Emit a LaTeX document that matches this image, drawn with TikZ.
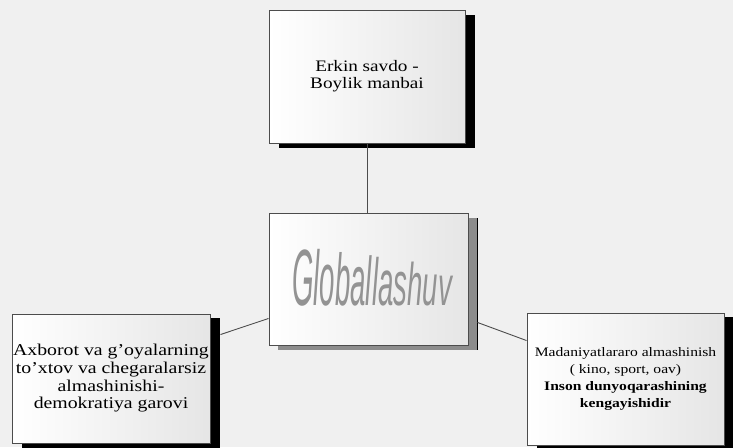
\documentclass[tikz,border=0pt]{standalone}
\usepackage{fontspec}
\usepackage{graphicx}
\setmainfont{Liberation Serif}
\newfontfamily\glfont{Liberation Sans}
\usetikzlibrary{shadows,calc}
\definecolor{gr1}{gray}{.94}
\definecolor{gr2}{gray}{.55}
\definecolor{edge}{gray}{.3}
\newcommand\wideln[1]{\scalebox{1.2}[1]{#1}}
\tikzset{
  box/.style={draw=edge, line width=.9pt, left color=white, right color=gray!20,
    inner sep=1pt, align=center, minimum width=197pt, minimum height=132pt,
    drop shadow={shadow xshift=10pt, shadow yshift=-5pt, fill=black, opacity=1}},
  greybox/.style={box, drop shadow={shadow xshift=9pt, shadow yshift=-5pt, fill=gr2, opacity=1}},
  link/.style={draw=edge, line width=.9pt},
  letter/.style={anchor=base west, inner sep=0, outer sep=0, text=gray!85,
    font=\glfont\itshape\fontsize{40}{40}\selectfont}
}

\begin{document}
\begin{tikzpicture}[x=1pt, y=-1pt]
    \clip (0, 0) rectangle (733, 447);
    \fill[gr1] (0, 0) rectangle (733, 447);
    % boxes
    \node[box, minimum width=196pt, minimum height=133pt, font=\fontsize{16}{17}\selectfont]
        (trade) at (367, 76.5) {\wideln{Erkin savdo -}\\\wideln{Boylik manbai}};
    \node[greybox, minimum width=199pt] (glob) at (368.5, 279) {};
    \node[box, minimum width=198pt, minimum height=129pt, font=\fontsize{16.5}{17.7}\selectfont,
        drop shadow={shadow xshift=10pt, shadow yshift=-4pt, fill=black, opacity=1}]
        (info) at (111, 378.5) {\wideln{Axborot va g'oyalarning}\\\wideln{to'xtov va chegaralarsiz}\\
        \wideln{almashinishi-}\\\wideln{demokratiya garovi}};
    \node[box, font=\fontsize{13}{17}\selectfont,
        drop shadow={shadow xshift=10pt, shadow yshift=-4pt, fill=black, opacity=1}]
        (culture) at (625.5, 379) {\wideln{Madaniyatlararo almashinish}\\\wideln{( kino, sport, oav)}\\
        \wideln{\textbf{Inson dunyoqarashining}}\\\wideln{\textbf{kengayishidir}}};
    % word art
    \node[inner sep=0] (g0) at ($(glob.west)+(23, 26)$) {};
    \foreach \ch [count=\i, remember=\i as \j (initially 0), evaluate=\i as \s using 2.05-.055*\i]
        in {G,l,o,b,a,l,l,a,s,h,u,v}
        \node[letter] (g\i) at (g\j.base east) {\scalebox{.69}[\s]{\ch}};
    % connectors
    \draw[link] (trade.south) -- (trade.south |- glob.north);
    \draw[link] ($(glob.south west)+(0, -27)$) -- ($(info.north east)+(10, 21)$);
    \draw[link] ($(glob.south east)+(9, -23)$) -- ($(culture.north west)+(0, 28)$);
\end{tikzpicture}
\end{document}
